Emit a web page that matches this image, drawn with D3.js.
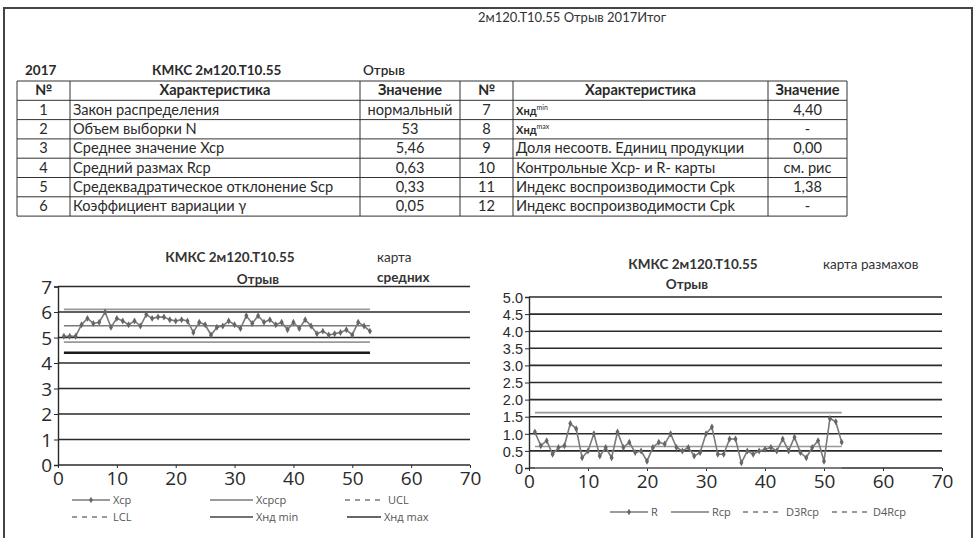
<!DOCTYPE html>
<html>
<head>
<meta charset="utf-8">
<script src="https://cdn.jsdelivr.net/npm/d3@7"></script>
<style>
  body { margin: 0; background: #fff; }
  svg { display: block; }
</style>
</head>
<body>
<div id="chart"></div>
<script>
// --- data ---
var sampleIdx = d3.range(1, 54);
var xMeans = [5.05, 5.05, 5.05, 5.5, 5.75, 5.55, 5.6, 6.0, 5.4, 5.75,
              5.65, 5.5, 5.65, 5.45, 5.9, 5.75, 5.8, 5.8, 5.7, 5.65,
              5.7, 5.65, 5.2, 5.6, 5.5, 5.1, 5.4, 5.45, 5.65, 5.5,
              5.35, 5.85, 5.55, 5.85, 5.6, 5.7, 5.5, 5.6, 5.3, 5.6,
              5.35, 5.7, 5.45, 5.15, 5.25, 5.1, 5.15, 5.2, 5.3, 5.1,
              5.6, 5.45, 5.25];
var ranges = [1.05, 0.65, 0.8, 0.4, 0.6, 0.65, 1.3, 1.15, 0.3, 0.5,
              1.0, 0.35, 0.6, 0.3, 1.05, 0.6, 0.75, 0.45, 0.5, 0.2,
              0.6, 0.75, 0.7, 1.0, 0.6, 0.5, 0.6, 0.35, 0.45, 1.0,
              1.2, 0.4, 0.4, 0.85, 0.85, 0.15, 0.5, 0.4, 0.5, 0.55,
              0.6, 0.5, 0.85, 0.5, 0.9, 0.45, 0.3, 0.6, 0.8, 0.2,
              1.45, 1.35, 0.75];
var xLimits = { Xcpcp: 5.46, UCL: 6.10, LCL: 4.82, Xndmin: 4.40 };
var rLimits = { Rcp: 0.63, D3Rcp: 0, D4Rcp: 1.62 };
var xTicks = [0, 10, 20, 30, 40, 50, 60, 70];
var yTicksMean = [0, 1, 2, 3, 4, 5, 6, 7];
var yTicksRange = [0, 0.5, 1, 1.5, 2, 2.5, 3, 3.5, 4, 4.5, 5];

var headRow = ["№", "Характеристика", "Значение"];
var leftRows = [
  ["1", "Закон распределения", "нормальный"],
  ["2", "Объем выборки N", "53"],
  ["3", "Среднее значение Xcp", "5,46"],
  ["4", "Средний размах Rcp", "0,63"],
  ["5", "Средеквадратическое отклонение Scp", "0,33"],
  ["6", "Коэффициент вариации γ", "0,05"]
];
var rightRows = [
  ["7", "Xнд|min", "4,40"],
  ["8", "Xнд|max", "-"],
  ["9", "Доля несоотв. Единиц продукции", "0,00"],
  ["10", "Контрольные Xcp- и R- карты", "см. рис"],
  ["11", "Индекс воспроизводимости Cpk", "1,38"],
  ["12", "Индекс воспроизводимости Cpk", "-"]
];

var W = 977, H = 538;
var ink = "#2a2a2a", gray = "#7a7a7a", lgray = "#999";
var tableFont = "Lato, 'Open Sans', sans-serif";
var axisFont = "'Open Sans', sans-serif";

var svg = d3.select("#chart").append("svg")
  .attr("width", W).attr("height", H)
  .attr("viewBox", [0, 0, W, H]);

// page frame
svg.append("path")
  .attr("d", "M4,540 L4,8 L972,8 L972,540")
  .attr("fill", "none").attr("stroke", "#444").attr("stroke-width", 2);

svg.append("text").attr("x", 572).attr("y", 22)
  .attr("text-anchor", "middle")
  .style("font", "13px " + tableFont).attr("fill", "#333")
  .text("2м120.Т10.55 Отрыв 2017Итог");

// --- table ---
var caption = svg.append("g").style("font", "bold 13.5px " + tableFont).attr("fill", ink);
caption.append("text").attr("x", 25).attr("y", 75).text("2017");
caption.append("text").attr("x", 152).attr("y", 75).text("КМКС 2м120.Т10.55");
caption.append("text").attr("x", 363).attr("y", 75).style("font-weight", "600").text("Отрыв");

var colX = [17, 70, 360, 460, 513, 768, 847];
var tTop = 81, rowH = 19.3;
var nRows = leftRows.length + 1;
var tbl = svg.append("g");

tbl.append("g").selectAll("line").data(d3.range(nRows + 1)).enter().append("line")
  .attr("x1", colX[0]).attr("x2", colX[6])
  .attr("y1", d => tTop + d * rowH).attr("y2", d => tTop + d * rowH)
  .attr("stroke", "#333").attr("stroke-width", 1);
tbl.append("g").selectAll("line").data(colX).enter().append("line")
  .attr("x1", d => d).attr("x2", d => d)
  .attr("y1", tTop).attr("y2", tTop + nRows * rowH)
  .attr("stroke", "#333").attr("stroke-width", 1);

function cellText(x0, x1, row, txt, align, bold) {
  var y = tTop + row * rowH + rowH - 5;
  var t = tbl.append("text").attr("y", y)
    .style("font", (bold ? "bold " : "") + "14.6px " + tableFont).attr("fill", ink);
  if (align === "middle") t.attr("x", (x0 + x1) / 2).attr("text-anchor", "middle");
  else t.attr("x", x0 + 3);
  if (txt.indexOf("|") >= 0) {
    var parts = txt.split("|");
    t.append("tspan").style("font-size", "11px").style("font-weight", "bold").text(parts[0]);
    t.append("tspan").attr("dy", -5).style("font-size", "7px").text(parts[1]);
  } else {
    t.text(txt);
  }
}

[0, 3].forEach(function (c) {
  cellText(colX[c], colX[c + 1], 0, headRow[0], "middle", true);
  cellText(colX[c + 1], colX[c + 2], 0, headRow[1], "middle", true);
  cellText(colX[c + 2], colX[c + 3], 0, headRow[2], "middle", true);
});
leftRows.forEach(function (r, i) {
  cellText(colX[0], colX[1], i + 1, r[0], "middle");
  cellText(colX[1], colX[2], i + 1, r[1], "start");
  cellText(colX[2], colX[3], i + 1, r[2], "middle");
});
rightRows.forEach(function (r, i) {
  cellText(colX[3], colX[4], i + 1, r[0], "middle");
  cellText(colX[4], colX[5], i + 1, r[1], "start");
  cellText(colX[5], colX[6], i + 1, r[2], "middle");
});

// --- chart helper ---
function controlChart(opt) {
  var g = svg.append("g");
  var x = d3.scaleLinear().domain([0, 70]).range([opt.x0, opt.x1]);
  var y = d3.scaleLinear().domain([0, opt.yMax]).range([opt.y0, opt.y1]);

  // gridlines
  g.append("g").selectAll("line").data(opt.yTicks).enter().append("line")
    .attr("x1", x(0)).attr("x2", x(70))
    .attr("y1", d => y(d)).attr("y2", d => y(d))
    .attr("stroke", ink).attr("stroke-width", 1.6);

  var yAxis = g.append("g").attr("transform", `translate(${x(0)},0)`)
    .call(d3.axisLeft(y).tickValues(opt.yTicks).tickSize(4).tickPadding(2)
      .tickFormat(opt.yFormat));
  yAxis.select(".domain").attr("stroke", ink).attr("stroke-width", 1.4);
  yAxis.selectAll(".tick line").attr("stroke", ink);
  yAxis.selectAll("text").style("font", opt.yFont).attr("fill", ink)
    .attr("dy", "0.36em");

  var xAxis = g.append("g").attr("transform", `translate(0,${y(0)})`)
    .call(d3.axisBottom(x).tickValues(xTicks).tickSize(3).tickPadding(4));
  xAxis.select(".domain").remove();
  xAxis.selectAll(".tick line").attr("stroke", ink);
  xAxis.selectAll("text").style("font", "19px " + axisFont).attr("fill", ink);

  // limit lines
  opt.limits.forEach(function (l) {
    g.append("line")
      .attr("x1", x(1)).attr("x2", x(53))
      .attr("y1", y(l.v)).attr("y2", y(l.v))
      .attr("stroke", l.color).attr("stroke-width", l.w);
  });

  // series
  var line = d3.line().x((d, i) => x(sampleIdx[i])).y(d => y(d));
  g.append("path").datum(opt.values)
    .attr("d", line).attr("fill", "none")
    .attr("stroke", gray).attr("stroke-width", 1.6);
  g.append("g").selectAll("path").data(opt.values).enter().append("path")
    .attr("d", d3.symbol(d3.symbolDiamond, 14))
    .attr("transform", (d, i) => `translate(${x(sampleIdx[i])},${y(d)})`)
    .attr("fill", "#666");

  // titles
  opt.titles.forEach(function (t) {
    g.append("text").attr("x", t.x).attr("y", t.y)
      .attr("text-anchor", t.anchor || "start")
      .style("font", (t.bold ? "bold " : "") + "13.5px " + tableFont)
      .attr("fill", "#333").text(t.text);
  });

  // legend
  opt.legend.forEach(function (l) {
    var lg = g.append("g").attr("transform", `translate(${l.x},${l.y})`);
    lg.append("line").attr("x1", 0).attr("x2", l.len).attr("y1", 0).attr("y2", 0)
      .attr("stroke", l.color || gray).attr("stroke-width", l.w || 1.3)
      .attr("stroke-dasharray", l.dash ? "5,5" : null);
    if (l.marker) lg.append("path").attr("d", d3.symbol(d3.symbolDiamond, 12))
      .attr("transform", `translate(${l.len / 2},0)`).attr("fill", "#666");
    lg.append("text").attr("x", l.len + 3).attr("y", 4)
      .style("font", "11px " + axisFont).attr("fill", "#555").text(l.text);
  });
}

controlChart({
  x0: 58, x1: 470, y0: 465, y1: 286.5, yMax: 7,
  yTicks: yTicksMean, yFormat: d3.format("d"), yFont: "19px " + axisFont,
  values: xMeans,
  limits: [
    { v: xLimits.UCL, color: lgray, w: 1.8 },
    { v: xLimits.Xcpcp, color: gray, w: 1.4 },
    { v: xLimits.LCL, color: lgray, w: 1.8 },
    { v: xLimits.Xndmin, color: "#1a1a1a", w: 2.6 }
  ],
  titles: [
    { x: 230, y: 262, text: "КМКС 2м120.Т10.55", anchor: "middle", bold: true },
    { x: 258, y: 284, text: "Отрыв", anchor: "middle", bold: true },
    { x: 377, y: 262, text: "карта" },
    { x: 377, y: 282, text: "средних", bold: true }
  ],
  legend: [
    { x: 72, y: 500, len: 38, text: "Xcp", marker: true },
    { x: 210, y: 500, len: 43, text: "Xcpcp" },
    { x: 345, y: 500, len: 40, text: "UCL", dash: true },
    { x: 72, y: 517, len: 38, text: "LCL", dash: true },
    { x: 210, y: 517, len: 43, text: "Xнд min", color: "#444" },
    { x: 347, y: 517, len: 34, text: "Xнд max", color: "#333" }
  ]
});

controlChart({
  x0: 529, x1: 942, y0: 468, y1: 297, yMax: 5,
  yTicks: yTicksRange, yFormat: d => d === 0 ? "0" : d3.format(".1f")(d),
  yFont: "14.5px 'Liberation Sans', sans-serif",
  values: ranges,
  limits: [
    { v: rLimits.D4Rcp, color: lgray, w: 1.8 },
    { v: rLimits.Rcp, color: lgray, w: 1.6 },
    { v: rLimits.D3Rcp, color: lgray, w: 1.2 }
  ],
  titles: [
    { x: 693, y: 269, text: "КМКС 2м120.Т10.55", anchor: "middle", bold: true },
    { x: 687, y: 289, text: "Отрыв", anchor: "middle", bold: true },
    { x: 823, y: 269, text: "карта размахов" }
  ],
  legend: [
    { x: 610, y: 512, len: 38, text: "R", marker: true },
    { x: 671, y: 512, len: 38, text: "Rcp" },
    { x: 743, y: 512, len: 40, text: "D3Rcp", dash: true },
    { x: 832, y: 512, len: 38, text: "D4Rcp", dash: true }
  ]
});
</script>
</body>
</html>
